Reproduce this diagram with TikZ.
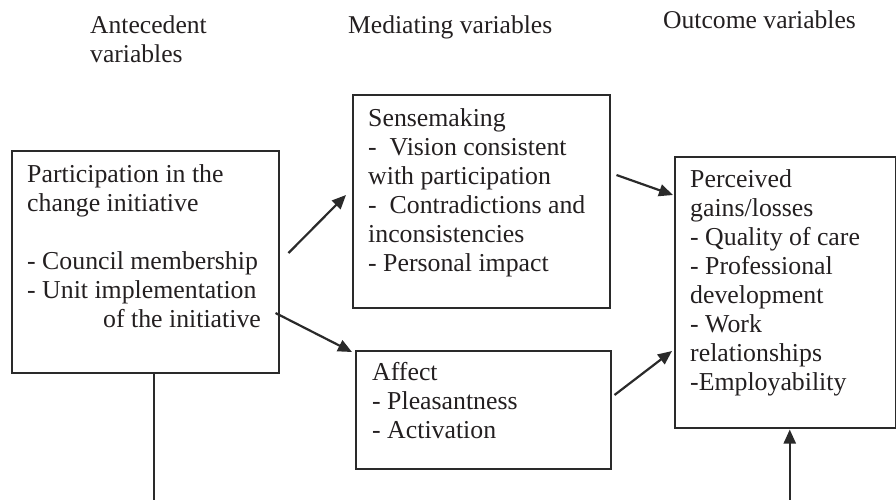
\documentclass[tikz,border=0pt]{standalone}
\usepackage{fontspec}
\setmainfont{Liberation Serif}
\usetikzlibrary{arrows.meta,calc}
\definecolor{linecol}{HTML}{2A2A2A}
\definecolor{textcol}{HTML}{231F20}
\begin{document}
\begin{tikzpicture}[x=1pt,y=-1pt,
  box/.style={draw=linecol, line width=1.5pt, rectangle, inner sep=0pt, anchor=north west},
  txt/.style={align=left, anchor=north west, inner sep=0pt, font=\fontsize{25.8}{29}\selectfont, text=textcol},
  head/.style={align=left, anchor=north west, inner sep=0pt, font=\fontsize{25.6}{29}\selectfont, text=textcol},
  arr/.style={draw=linecol, line width=2.2pt, -{Triangle[length=14pt,width=12pt]}},
  plain/.style={draw=linecol, line width=2.2pt}]
\useasboundingbox (0,0) rectangle (896,499);

% headers
\node[head] (h1) at (90,15.5) {Antecedent\\variables};
\node[head] (h2) at (348,15.5) {Mediating variables};
\node[head] (h3) at (663,10.5) {Outcome variables};

% boxes
\node[box, minimum width=267pt, minimum height=222pt] (ante) at (11,150) {};
\node[box, minimum width=257pt, minimum height=213pt] (sense) at (352,94) {};
\node[box, minimum width=255pt, minimum height=118pt] (affect) at (355,350) {};
\node[box, minimum width=221pt, minimum height=271pt] (out) at (674,156) {};

% texts
\node[txt] (antet) at (27,164) {Participation in the\\change initiative\\[29pt]- Council membership\\- Unit implementation\\\hspace*{76pt}of the initiative};
\node[txt] (senset) at (368,108) {Sensemaking\\-\ \ Vision consistent\\with participation\\-\ \ Contradictions and\\inconsistencies\\- Personal impact};
\node[txt] (affectt) at (372,362) {Affect\\- Pleasantness\\- Activation};
\node[txt] (outt) at (690,169) {Perceived\\gains/losses\\- Quality of care\\- Professional\\development\\- Work\\relationships\\-Employability};

% connectors
\draw[arr] ($(ante.north east)+(9,103)$) -- ($(sense.north west)+(-6,101)$);
\draw[arr] ($(ante.north east)+(-4,163)$) -- ($(affect.north west)+(-3,2)$);
\draw[arr] ($(sense.north east)+(6,81)$) -- ($(out.north west)+(-1,39)$);
\draw[arr] ($(affect.north east)+(3,45)$) -- ($(out.north west)+(-2,195)$);
\draw[plain] ($(ante.south)+(8.5,0)$) -- ++(0,130);
\draw[arr] ($(out.south)+(4.5,75)$) -- ($(out.south)+(4.5,1)$);
\end{tikzpicture}
\end{document}
